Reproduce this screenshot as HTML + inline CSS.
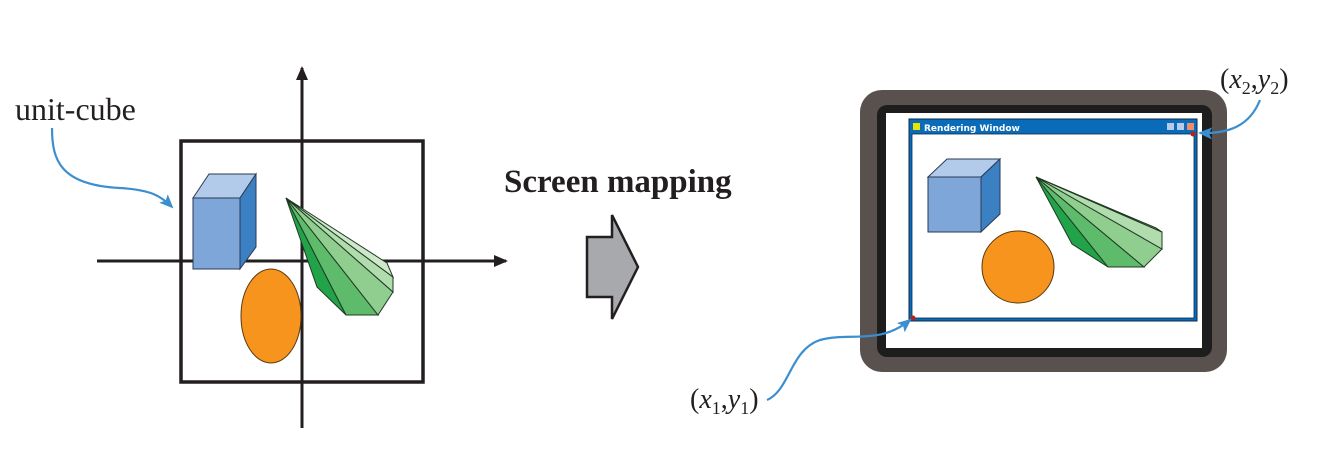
<!DOCTYPE html>
<html><head><meta charset="utf-8"><style>
html,body{margin:0;padding:0;background:#fff;}
svg{display:block;}
</style></head><body>
<svg width="1340" height="451" viewBox="0 0 1340 451" xmlns="http://www.w3.org/2000/svg">
<defs>
<marker id="ah" markerWidth="14" markerHeight="14" refX="12" refY="7" orient="auto" markerUnits="userSpaceOnUse"><path d="M0,1 L14,7 L0,13 z" fill="#231f20"/></marker>
<marker id="bh" markerWidth="14" markerHeight="12" refX="12" refY="6" orient="auto" markerUnits="userSpaceOnUse"><path d="M0,0 L14,6 L0,12 L3,6 z" fill="#3b8fd0"/></marker>
</defs>
<line x1="97" y1="261" x2="506" y2="261" stroke="#231f20" stroke-width="3" marker-end="url(#ah)"/>
<line x1="302" y1="428" x2="302" y2="68" stroke="#231f20" stroke-width="3" marker-end="url(#ah)"/>
<rect x="181" y="141" width="242" height="241" fill="none" stroke="#231f20" stroke-width="3.5"/>
<polygon points="193,198 209,174 256,174 240,198" fill="#b3cbea" stroke="#2a3a55" stroke-width="1"/>
<polygon points="240,198 256,174 256,247 240,269" fill="#3a80c2" stroke="#2a3a55" stroke-width="1"/>
<rect x="193" y="198" width="47" height="71" fill="#7ea6d8" stroke="#2a3a55" stroke-width="1"/>
<ellipse cx="271" cy="316" rx="30" ry="47" fill="#f7941d" stroke="#5a3a10" stroke-width="1"/>
<g stroke="#1f3a22" stroke-width="1">
<polygon points="286,198 317,287 346,315" fill="#22a34a"/>
<polygon points="286,198 346,315 378,315" fill="#5dbb6b"/>
<polygon points="286,198 378,315 393,292" fill="#8fce8f"/>
<polygon points="286,198 393,292 393,277" fill="#b0dcae"/>
<polygon points="286,198 393,277 387,263" fill="#cde9c9"/>
</g>
<text x="15" y="120" font-family="Liberation Serif, serif" font-size="32" fill="#231f20">unit-cube</text>
<path d="M52,128 C52,160 60,185 120,188 C150,190 160,195 172,207" fill="none" stroke="#3b8fd0" stroke-width="2.2" marker-end="url(#bh)"/>
<text x="504" y="192" font-family="Liberation Serif, serif" font-size="33" font-weight="bold" fill="#231f20">Screen mapping</text>
<polygon points="587,237 612,237 612,215 638,267 612,319 612,297 587,297" fill="#a7a9ac" stroke="#231f20" stroke-width="2.5"/>
<rect x="860" y="90" width="367" height="282" rx="22" fill="#58514e"/>
<rect x="877" y="105" width="335" height="252" rx="10" fill="#1d1d1d"/>
<rect x="886" y="113" width="316" height="235" fill="#fff"/>
<rect x="909" y="119" width="288" height="202" fill="#0a6cb8" stroke="#0b2a4a" stroke-width="1"/>
<rect x="912" y="134" width="282" height="184" fill="#fff" stroke="#0b2a4a" stroke-width="0.8"/>
<rect x="913" y="123" width="7" height="7" fill="#e6e600"/>
<text x="924" y="131" font-family="DejaVu Sans, sans-serif" font-size="9" font-weight="bold" fill="#fff">Rendering Window</text>
<rect x="1167" y="123" width="7" height="7" fill="#b7cbe8"/>
<rect x="1177" y="123" width="7" height="7" fill="#b7cbe8"/>
<rect x="1187" y="123" width="7" height="7" fill="#f08c6a"/>
<circle cx="1193" cy="134" r="2.5" fill="#b32020"/>
<circle cx="913" cy="318" r="2.5" fill="#b32020"/>
<polygon points="928,177 947,159 1000,159 981,177" fill="#b3cbea" stroke="#2a3a55" stroke-width="1"/>
<polygon points="981,177 1000,159 1000,214 981,232" fill="#3a80c2" stroke="#2a3a55" stroke-width="1"/>
<rect x="928" y="177" width="53" height="55" fill="#7ea6d8" stroke="#2a3a55" stroke-width="1"/>
<circle cx="1018" cy="267" r="36" fill="#f7941d" stroke="#5a3a10" stroke-width="1"/>
<g stroke="#1f3a22" stroke-width="1">
<polygon points="1036,177 1072,244 1108,267" fill="#22a34a"/>
<polygon points="1036,177 1108,267 1144,267" fill="#5dbb6b"/>
<polygon points="1036,177 1144,267 1162,249" fill="#8fce8f"/>
<polygon points="1036,177 1162,249 1162,232" fill="#b0dcae"/>
<polygon points="1036,177 1162,232 1156,228" fill="#cde9c9"/>
</g>
<text x="690" y="408" font-family="Liberation Serif, serif" font-size="28" font-style="italic" fill="#231f20"><tspan font-style="normal">(</tspan>x<tspan font-size="18" dy="6" font-style="normal">1</tspan><tspan dy="-6" font-style="normal">,</tspan>y<tspan font-size="18" dy="6" font-style="normal">1</tspan><tspan dy="-6" font-style="normal">)</tspan></text>
<path d="M767,400 C790,390 790,350 820,340 C850,332 880,345 910,320" fill="none" stroke="#3b8fd0" stroke-width="2.2" marker-end="url(#bh)"/>
<text x="1220" y="88" font-family="Liberation Serif, serif" font-size="28" font-style="italic" fill="#231f20"><tspan font-style="normal">(</tspan>x<tspan font-size="18" dy="6" font-style="normal">2</tspan><tspan dy="-6" font-style="normal">,</tspan>y<tspan font-size="18" dy="6" font-style="normal">2</tspan><tspan dy="-6" font-style="normal">)</tspan></text>
<path d="M1260,100 C1250,125 1230,134 1200,133" fill="none" stroke="#3b8fd0" stroke-width="2.2" marker-end="url(#bh)"/>
</svg>
</body></html>
